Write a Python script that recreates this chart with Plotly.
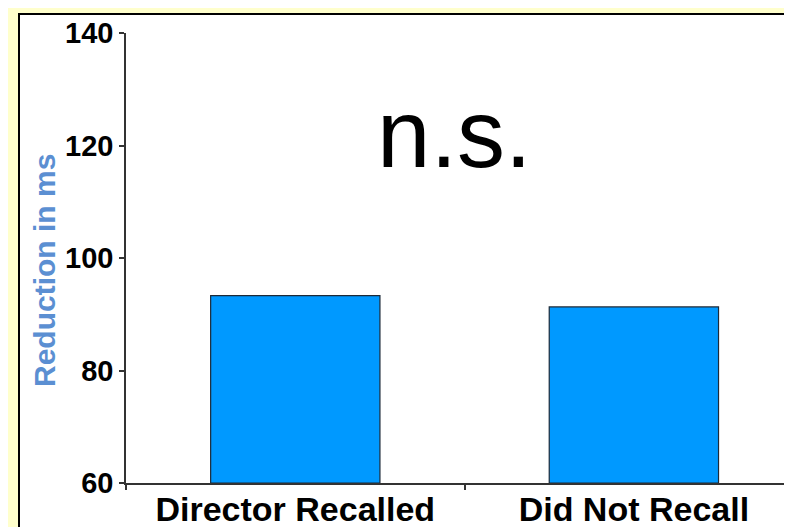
import plotly.graph_objects as go

# data
categories = ["Director Recalled", "Did Not Recall"]
reduction_ms = [93.3, 91.3]
y_ticks = [60, 80, 100, 120, 140]
y_floor = 60

W, H = 792, 527
# the page puts the figure 8px in from the top-left corner
L, R, T, B = 118, 8, 25, 52
pw, ph = W - L - R, H - T - B

def px_x(x):  # screen x -> paper x
    return (x - 8 - L) / pw

def px_y(y):  # screen y -> paper y
    return (H - B - (y - 8)) / ph

FONT = "Liberation Sans, Arial"

fig = go.Figure()
fig.add_trace(go.Bar(
    x=categories, y=[v - y_floor for v in reduction_ms], base=y_floor, width=0.5,
    marker=dict(color="#0099FF", line=dict(color="#1c2a38", width=1.2)),
))

# white framed panel behind the chart
fig.add_shape(type="rect", xref="paper", yref="paper",
              x0=px_x(19), x1=1.2, y0=-0.3, y1=px_y(14),
              fillcolor="white", line=dict(color="black", width=2),
              layer="below")

fig.add_annotation(text="n.s.", xref="paper", yref="paper",
                   x=px_x(454), y=px_y(133),
                   showarrow=False, xanchor="center", yanchor="middle",
                   font=dict(family=FONT, size=96, color="black"))

fig.add_annotation(text="<b>Reduction in ms</b>", xref="paper", yref="paper",
                   x=px_x(44), y=px_y(271), textangle=-90,
                   showarrow=False, xanchor="center", yanchor="middle",
                   font=dict(family=FONT, size=30, color="#5b8fd2"))

fig.update_xaxes(range=[-0.5, 1.467], type="category", showline=True, linecolor="#333",
                 linewidth=1.5, ticks="outside", tickson="boundaries", ticklen=5,
                 tickcolor="#333", tickwidth=1.5, showgrid=False, ticklabelstandoff=-5,
                 automargin=False,
                 tickvals=categories, ticktext=["<b>%s</b>" % c for c in categories],
                 tickfont=dict(family=FONT, size=34, color="black"))
fig.update_yaxes(range=[60, 140], tickvals=y_ticks, ticktext=["<b>%d</b>" % v for v in y_ticks],
                 showline=True, linecolor="#333", linewidth=1.5, ticks="outside",
                 ticklen=5, tickcolor="#333", tickwidth=1.5, showgrid=False, zeroline=False,
                 automargin=False,
                 tickfont=dict(family=FONT, size=29, color="black"))

fig.update_layout(
    width=W, height=H, margin=dict(l=L, r=R, t=T, b=B),
    paper_bgcolor="#FFFFCC", plot_bgcolor="white",
    showlegend=False, font=dict(family=FONT),
)

fig.write_html("out.html")
